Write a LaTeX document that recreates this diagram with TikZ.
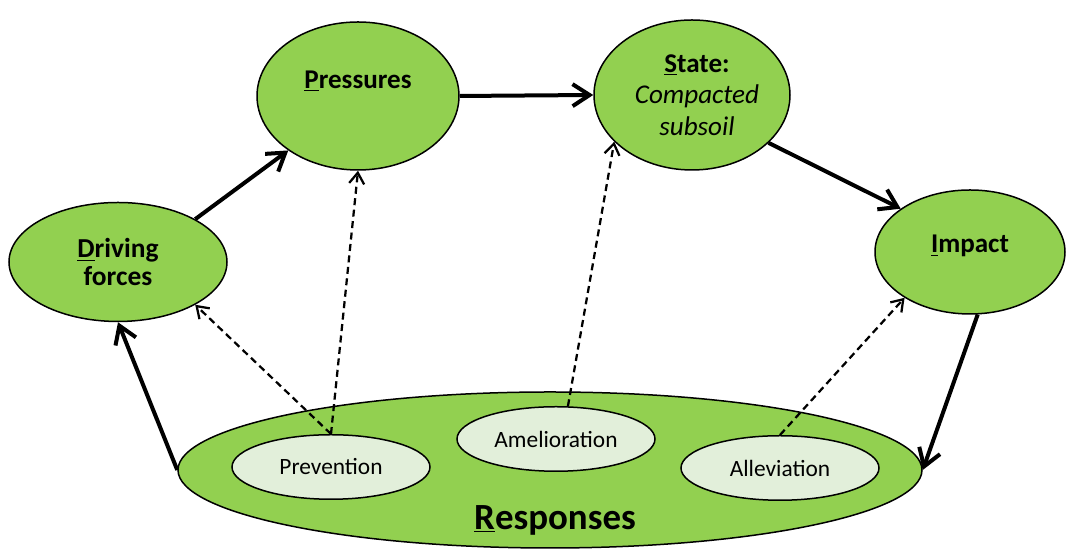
\documentclass[tikz,border=0pt]{standalone}
\usepackage{fontspec}
\setmainfont{Carlito}
\usetikzlibrary{shapes.geometric, arrows.meta}
\definecolor{leaf}{RGB}{146, 208, 80}
\definecolor{pale}{RGB}{226, 239, 218}
\tikzstyle{stage} = [ellipse, draw = black, fill = leaf, line width = 0.3mm, inner sep = 0pt]
\tikzstyle{measure} = [ellipse, draw = black, fill = pale, line width = 0.3mm, inner sep = 0pt, minimum width = 3.96cm, minimum height = 1.29cm, font = \fontsize{13.3}{15}\selectfont]
\tikzstyle{caption} = [align = center, font = \fontsize{15.4}{18}\selectfont\bfseries]
\tikzstyle{flow} = [>={Straight Barb[length = 3.4mm, width = 4.4mm]}, ->, line width = 0.8mm]
\tikzstyle{effect} = [>={Straight Barb[length = 2.2mm, width = 3mm]}, ->, dash pattern = on 1.4mm off 0.9mm, line width = 0.45mm]

\begin{document}
\begin{tikzpicture}
        \useasboundingbox (0, 0) rectangle (21.38, 10.98);
        \node (D) at (2.36, 5.74) [stage, minimum width = 4.36cm, minimum height = 2.38cm] {};
        \node (P) at (7.16, 9.06) [stage, minimum width = 4.04cm, minimum height = 2.96cm] {};
        \node (S) at (13.84, 9.08) [stage, minimum width = 3.92cm, minimum height = 3.0cm] {};
        \node (I) at (19.4, 5.94) [stage, minimum width = 3.8cm, minimum height = 2.48cm] {};
        \node (R) at (11.0, 1.58) [stage, minimum width = 14.88cm, minimum height = 3.12cm] {};
        \node (Dtext) at (D.center) [caption, font = \fontsize{15.6}{16}\selectfont\bfseries] {\underline{D}riving\\forces};
        \node (Ptext) at ([yshift = 0.3cm]P.center) [caption] {\underline{P}ressures};
        \node (Stext) at ([xshift = 0.1cm]S.center) [caption] {\underline{S}tate:\\\mdseries\itshape Compacted\\\mdseries\itshape subsoil};
        \node (Itext) at ([yshift = 0.12cm]I.center) [caption] {\underline{I}mpact};
        \node (Rtext) at (11.1, 0.58) [caption, font = \fontsize{21}{24}\selectfont\bfseries] {\underline{R}esponses};

        \node (Pv) at (6.62, 1.64) [measure] {Prevention};
        \node (Am) at (11.12, 2.2) [measure] {Amelioration};
        \node (Al) at (15.6, 1.62) [measure] {Alleviation};

        \draw [flow] (D.29) -- (P.218);
        \draw [flow] (P.east) -- (S.west);
        \draw [flow] (S.-32) -- (I.148);
        \draw [flow] (I.-83) -- (R.east);
        \draw [flow] (R.west) -- (D.south);

        \draw [effect] (Pv.north) -- (D.-29);
        \draw [effect] (Pv.north) -- (P.south);
        \draw [effect] (Am.70) -- (S.211);
        \draw [effect] (Al.north) -- (I.215);
    \end{tikzpicture}
\end{document}
